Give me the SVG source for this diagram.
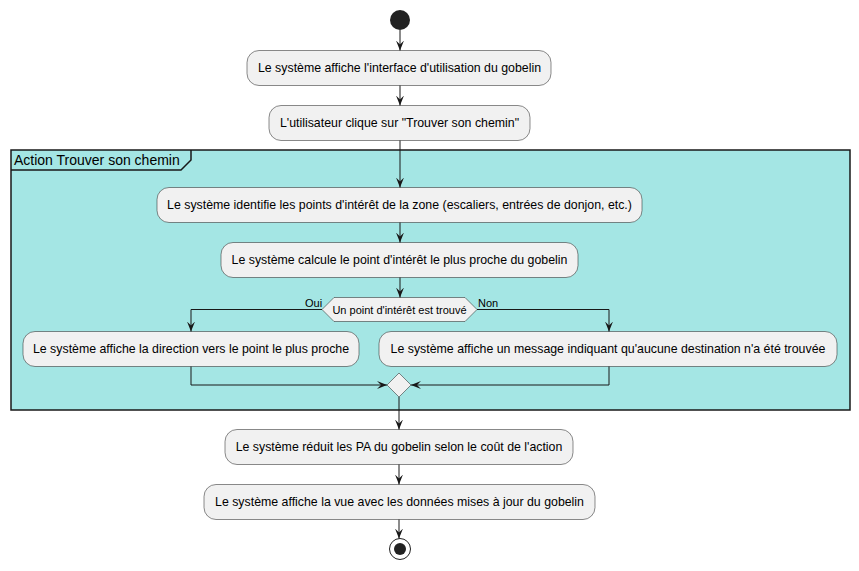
<svg xmlns="http://www.w3.org/2000/svg" width="859" height="571" viewBox="0 0 859 571">
<defs>
<marker id="ah" viewBox="0 0 10 10" refX="10" refY="5" markerWidth="10" markerHeight="10" markerUnits="userSpaceOnUse" orient="auto">
<path d="M0,1 L10,5 L0,9 L4,5 Z" fill="#181818"/>
</marker>
</defs>
<style>
.node rect{fill:#F1F1F1;stroke:#181818;stroke-width:0.5}
.t{font-family:"Liberation Sans",Arial,sans-serif;font-size:12.35px;fill:#000;text-anchor:middle}
.s{font-family:"Liberation Sans",Arial,sans-serif;font-size:11px;fill:#000}
.c path,.c line,.c polyline{fill:none;stroke:#181818;stroke-width:1}
</style>
<rect width="859" height="571" fill="#fff"/>
<g id="frame">
<rect x="11" y="150" width="839" height="260" fill="#A4E6E4" stroke="#181818" stroke-width="1.5"/>
<path d="M11,170 L181,170 L191,160 L191,150" fill="none" stroke="#181818" stroke-width="1.5"/>
<text x="14" y="165" style="font-family:'Liberation Sans',Arial,sans-serif;font-size:14px;fill:#000">Action Trouver son chemin</text>
</g>
<g id="start"><circle cx="400" cy="20" r="10" fill="#222"/></g>
<g id="n1" class="node"><rect x="247" y="50.5" width="304" height="35" rx="12"/><text class="t" x="399.5" y="72">Le système affiche l'interface d'utilisation du gobelin</text></g>
<g id="n2" class="node"><rect x="269" y="105.5" width="261" height="35" rx="12"/><text class="t" x="399.5" y="127">L'utilisateur clique sur "Trouver son chemin"</text></g>
<g id="n3" class="node"><rect x="157" y="187.5" width="485" height="35" rx="12"/><text class="t" x="399.5" y="209">Le système identifie les points d'intérêt de la zone (escaliers, entrées de donjon, etc.)</text></g>
<g id="n4" class="node"><rect x="221" y="242.5" width="357" height="35" rx="12"/><text class="t" x="399.5" y="264">Le système calcule le point d'intérêt le plus proche du gobelin</text></g>
<g id="d1"><polygon points="322,309.5 334,297.5 465,297.5 477,309.5 465,321.5 334,321.5" fill="#F1F1F1" stroke="#181818" stroke-width="0.5"/><text class="s" x="399.5" y="313.5" text-anchor="middle">Un point d'intérêt est trouvé</text></g>
<g id="n5" class="node"><rect x="23" y="331.5" width="336" height="35" rx="12"/><text class="t" x="191" y="353">Le système affiche la direction vers le point le plus proche</text></g>
<g id="n6" class="node"><rect x="379" y="331.5" width="458" height="35" rx="12"/><text class="t" x="608" y="353">Le système affiche un message indiquant qu'aucune destination n'a été trouvée</text></g>
<g id="merge"><polygon points="399,373 411,385 399,397 387,385" fill="#F1F1F1" stroke="#181818" stroke-width="0.5"/></g>
<g id="n7" class="node"><rect x="225" y="429.5" width="348" height="35" rx="12"/><text class="t" x="399" y="451">Le système réduit les PA du gobelin selon le coût de l'action</text></g>
<g id="n8" class="node"><rect x="204" y="484.5" width="391" height="35" rx="12"/><text class="t" x="399.5" y="506">Le système affiche la vue avec les données mises à jour du gobelin</text></g>
<g id="end"><circle cx="400" cy="549" r="10.5" fill="#fff" stroke="#222" stroke-width="1"/><circle cx="400" cy="549" r="6" fill="#222"/></g>
<g id="connectors" class="c">
<line x1="400" y1="30" x2="400" y2="50.5" marker-end="url(#ah)"/>
<line x1="400" y1="85.5" x2="400" y2="105.5" marker-end="url(#ah)"/>
<line x1="400" y1="140.5" x2="400" y2="187.5" marker-end="url(#ah)"/>
<line x1="400" y1="222.5" x2="400" y2="242.5" marker-end="url(#ah)"/>
<line x1="400" y1="277.5" x2="400" y2="297.5" marker-end="url(#ah)"/>
<polyline points="322,309.5 191,309.5 191,331.5" marker-end="url(#ah)"/>
<polyline points="477,309.5 609,309.5 609,331.5" marker-end="url(#ah)"/>
<polyline points="191,366.5 191,385 387,385" marker-end="url(#ah)"/>
<polyline points="609,366.5 609,385 411,385" marker-end="url(#ah)"/>
<line x1="399" y1="397" x2="399" y2="429.5" marker-end="url(#ah)"/>
<line x1="399" y1="464.5" x2="399" y2="484.5" marker-end="url(#ah)"/>
<line x1="399" y1="519.5" x2="399" y2="538.5" marker-end="url(#ah)"/>
</g>
<g id="labels">
<text class="s" x="305" y="307">Oui</text>
<text class="s" x="478" y="307">Non</text>
</g>
</svg>
